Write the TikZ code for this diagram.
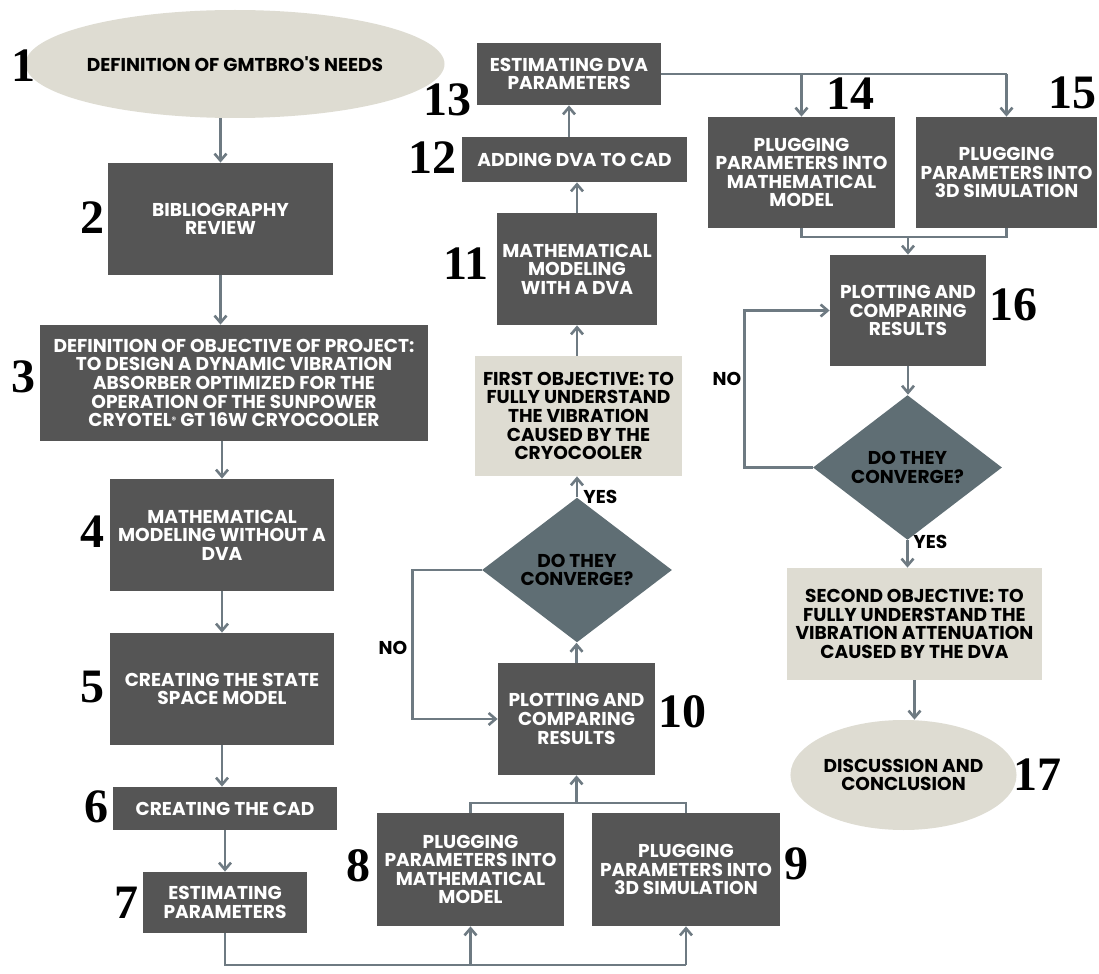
\documentclass[tikz,border=0pt]{standalone}
\usepackage{fontspec}
\setmainfont{Liberation Serif}
\newfontfamily\boxfont{Poppins}
\usetikzlibrary{shapes.geometric,arrows.meta}

\definecolor{boxgray}{HTML}{555555}
\definecolor{sand}{HTML}{DEDCD2}
\definecolor{slate}{HTML}{5F6E74}
\definecolor{wire}{HTML}{6E7A82}
\newcommand\boxtext{\boxfont\bfseries\fontsize{9.3}{9.3}\selectfont}
\newcommand\regmark{\raisebox{1.8pt}{\fontsize{4.5}{4.5}\selectfont ®}}

\begin{document}
\begin{tikzpicture}[
    x=0.5pt, y=-0.5pt,
    box/.style={rectangle, fill=boxgray, text=white, align=center, inner sep=0pt, font=\boxtext},
    goal/.style={box, fill=sand, text=black},
    oval/.style={ellipse, fill=sand, text=black, align=center, inner sep=0pt, font=\boxtext},
    check/.style={diamond, fill=slate, text=black, align=center, inner sep=0pt, font=\boxtext},
    num/.style={inner sep=0pt, font=\bfseries\fontsize{24}{24}\selectfont},
    tag/.style={inner sep=0pt, font=\boxtext},
    line/.style={draw=wire, line width=1.3pt},
    arrow/.style={line, -{Straight Barb[length=3.5pt, width=6pt]}}
]
    \fill[white] (0,0) rectangle (1099,974);
    \useasboundingbox (0,0) rectangle (1099,974);

    % left column
    \node[oval, minimum width=193pt, minimum height=54pt] (n1) at (235,64) {DEFINITION OF GMTBRO'S NEEDS};
    \node[box, minimum width=112.5pt, minimum height=56pt] (n2) at (220.5,219) {BIBLIOGRAPHY\\REVIEW};
    \node[box, minimum width=194pt, minimum height=58pt] (n3) at (234,383) {DEFINITION OF OBJECTIVE OF PROJECT:\\TO DESIGN A DYNAMIC VIBRATION\\ABSORBER OPTIMIZED FOR THE\\OPERATION OF THE SUNPOWER\\CRYOTEL\regmark{} GT 16W CRYOCOOLER};
    \node[box, minimum width=112pt, minimum height=56pt] (n4) at (222,535) {MATHEMATICAL\\MODELING WITHOUT A\\DVA};
    \node[box, minimum width=112pt, minimum height=56pt] (n5) at (222,689) {CREATING THE STATE\\SPACE MODEL};
    \node[box, minimum width=112pt, minimum height=21.5pt] (n6) at (225,808.5) {CREATING THE CAD};
    \node[box, minimum width=82pt, minimum height=30.5pt] (n7) at (225,902.5) {ESTIMATING\\PARAMETERS};

    % middle column
    \node[box, minimum width=93.5pt, minimum height=56.5pt] (n8) at (470.5,869.5) {PLUGGING\\PARAMETERS INTO\\MATHEMATICAL\\MODEL};
    \node[box, minimum width=94pt, minimum height=56.5pt] (n9) at (686,869.5) {PLUGGING\\PARAMETERS INTO\\3D SIMULATION};
    \node[box, minimum width=78.5pt, minimum height=56pt] (n10) at (576.5,719) {PLOTTING AND\\COMPARING\\RESULTS};
    \node[check, minimum width=95pt, minimum height=62pt] (d1) at (577,570) {DO THEY\\CONVERGE?};
    \node[goal, minimum width=103.5pt, minimum height=60pt] (o1) at (578.5,416) {FIRST OBJECTIVE: TO\\FULLY UNDERSTAND\\THE VIBRATION\\CAUSED BY THE\\CRYOCOOLER};
    \node[box, minimum width=80pt, minimum height=56pt] (n11) at (577,269) {MATHEMATICAL\\MODELING\\WITH A DVA};
    \node[box, minimum width=112.5pt, minimum height=22.5pt] (n12) at (574.5,159.5) {ADDING DVA TO CAD};
    \node[box, minimum width=92pt, minimum height=31pt] (n13) at (569,74) {ESTIMATING DVA\\PARAMETERS};

    % right column
    \node[box, minimum width=93.5pt, minimum height=55.5pt] (n14) at (801.5,172.5) {PLUGGING\\PARAMETERS INTO\\MATHEMATICAL\\MODEL};
    \node[box, minimum width=90.5pt, minimum height=55.5pt] (n15) at (1006.5,172.5) {PLUGGING\\PARAMETERS INTO\\3D SIMULATION};
    \node[box, minimum width=78pt, minimum height=55.5pt] (n16) at (908,310.5) {PLOTTING AND\\COMPARING\\RESULTS};
    \node[check, minimum width=94.5pt, minimum height=60.5pt] (d2) at (907.5,467.5) {DO THEY\\CONVERGE?};
    \node[goal, minimum width=127.5pt, minimum height=56pt] (o2) at (914.5,624) {SECOND OBJECTIVE: TO\\FULLY UNDERSTAND THE\\VIBRATION ATTENUATION\\CAUSED BY THE DVA};
    \node[oval, minimum width=108.5pt, minimum height=55pt] (n17) at (903.5,775) {DISCUSSION AND\\CONCLUSION};

    % step numbers
    \node[num] (l1) at (23,66) {1};
    \node[num] (l2) at (92,218) {2};
    \node[num] (l3) at (23,377) {3};
    \node[num] (l4) at (92,532) {4};
    \node[num] (l5) at (92,687) {5};
    \node[num] (l6) at (96,807) {6};
    \node[num] (l7) at (126,903) {7};
    \node[num] (l8) at (358,866) {8};
    \node[num] (l9) at (796,864) {9};
    \node[num] (l10) at (682,712) {10};
    \node[num] (l11) at (466,264) {11};
    \node[num] (l12) at (432,158) {12};
    \node[num] (l13) at (447,100) {13};
    \node[num] (l14) at (850,94) {14};
    \node[num] (l15) at (1072,93) {15};
    \node[num] (l16) at (1013,305) {16};
    \node[num] (l17) at (1037,775) {17};

    \node[tag] (no1) at (393,648) {NO};
    \node[tag] (no2) at (727,379) {NO};
    \node[tag, anchor=west] (yes1) at (583,497) {YES};
    \node[tag, anchor=west] (yes2) at (913,542) {YES};

    \coordinate (bus) at (0,965);
    \coordinate (join) at (0,803);
    \coordinate (join2) at (0,237);

    % connectors
    \draw[arrow] (n1.south -| n2.north) -- (n2.north);
    \draw[arrow] (n2.south) -- (n2.south |- n3.north);
    \draw[arrow] (n3.south -| n4.north) -- (n4.north);
    \draw[arrow] (n4.south) -- (n5.north);
    \draw[arrow] (n5.south) -- (n5.south |- n6.north);
    \draw[arrow] (n6.south) -- (n7.north);

    \draw[line] (n7.south) |- (n9.south |- bus);
    \draw[arrow] (n8.south |- bus) -- (n8.south);
    \draw[arrow] (n9.south |- bus) -- (n9.south);
    \draw[line] (n8.north) |- (n10.south |- join) -| (n9.north);
    \draw[arrow] (n10.south |- join) -- (n10.south);
    \draw[arrow] (n10.north) -- (n10.north |- d1.south);
    \draw[arrow] (d1.north) -- (d1.north |- o1.south);
    \draw[arrow] (d1.west) -- ++(-69,0) |- (n10.west);
    \draw[arrow] (o1.north -| n11.south) -- (n11.south);
    \draw[arrow] (n11.north) -- (n11.north |- n12.south);
    \draw[arrow] (n12.north -| n13.south) -- (n13.south);

    \draw[line] (n13.east) -- (n13.east -| n15.north);
    \draw[arrow] (n13.east -| n14.north) -- (n14.north);
    \draw[arrow] (n13.east -| n15.north) -- (n15.north);
    \draw[line] (n14.south) |- (n16.north |- join2) -| (n15.south);
    \draw[arrow] (n16.north |- join2) -- (n16.north);
    \draw[arrow] (n16.south) -- (n16.south |- d2.north);
    \draw[arrow] (d2.west) -- ++(-68,0) |- (n16.west);
    \draw[arrow] (d2.south) -- (d2.south |- o2.north);
    \draw[arrow] (o2.south) -- (o2.south |- n17.north);
\end{tikzpicture}
\end{document}
